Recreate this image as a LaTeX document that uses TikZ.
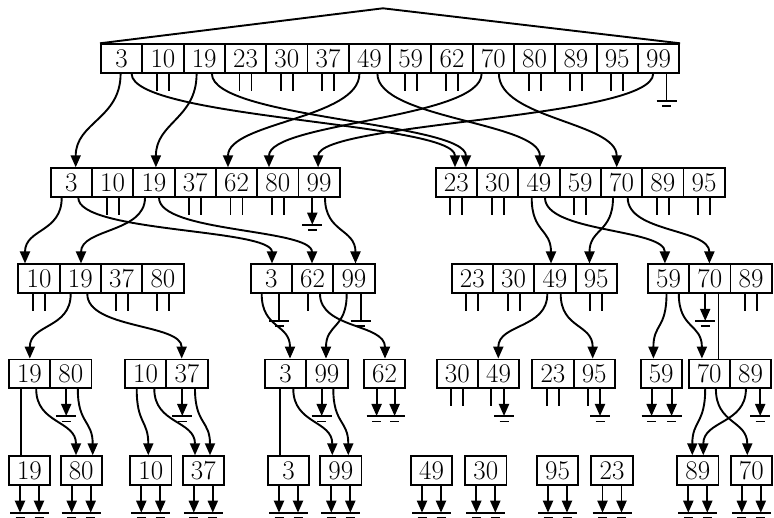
\documentclass[tikz,border=0pt]{standalone}
\usetikzlibrary{arrows.meta}
\newcommand\ptrc[5]{\draw[ptr] ([xshift=#2pt]#1.south) .. controls +(0,-#5) and +(0,#5) .. ([xshift=#4pt]#3.north);}
\newcommand\lin[4]{\draw ([xshift=#2pt]#1.south) -- ([xshift=#4pt]#3.north);}
\newcommand\stubl[2]{\draw ([xshift=#2pt]#1.south) -- ++(0,-17);}
\newcommand\stubs[1]{\stubl{#1}{-6}\stubl{#1}{6}}
\newcommand\gnd[3]{%
  \draw[#3] ([xshift=#2pt]#1.south) -- ++(0,-27);
  \draw ([xshift=#2pt]#1.south) ++(-10,-27) -- ++(20,0);
  \draw ([xshift=#2pt]#1.south) ++(-4.5,-32.5) -- ++(9,0);}
\newcommand\gndtwo[1]{\gnd{#1}{-9.5}{ptr}\gnd{#1}{9.5}{ptr}}
\begin{document}
\begin{tikzpicture}[x=1pt,y=1pt,line width=1.9pt,
  cell/.style={draw,minimum width=41.3pt,minimum height=28.5pt,inner sep=0pt,
    font=\fontsize{27}{30}\selectfont},
  ptr/.style={-{Triangle[width=10pt,length=12pt]}}]
\useasboundingbox (0,0) rectangle (774,-518);
% level 0
\foreach \k [count=\i from 0] in {3,10,19,23,30,37,49,59,62,70,80,89,95,99}
  \node[cell] (a\k) at (121.6+41.3*\i,-58.5) {\k};
% level 1
\foreach \k [count=\i from 0] in {3,10,19,37,62,80,99}
  \node[cell] (b\k) at (71.3+41.3*\i,-182.5) {\k};
\foreach \k [count=\i from 0] in {23,30,49,59,70,89,95}
  \node[cell] (c\k) at (456.3+41.3*\i,-182.5) {\k};
% level 2
\foreach \k [count=\i from 0] in {10,19,37,80}
  \node[cell] (d\k) at (39+41.3*\i,-278.7) {\k};
\foreach \k [count=\i from 0] in {3,62,99}
  \node[cell] (e\k) at (271.3+41.3*\i,-278.7) {\k};
\foreach \k [count=\i from 0] in {23,30,49,95}
  \node[cell] (f\k) at (472.3+41.3*\i,-278.7) {\k};
\foreach \k [count=\i from 0] in {59,70,89}
  \node[cell] (g\k) at (668.5+41.3*\i,-278.7) {\k};
% level 3
\foreach \k [count=\i from 0] in {19,80}
  \node[cell] (h\k) at (29.5+41.3*\i,-373.8) {\k};
\foreach \k [count=\i from 0] in {10,37}
  \node[cell] (i\k) at (145.6+41.3*\i,-373.8) {\k};
\foreach \k [count=\i from 0] in {3,99}
  \node[cell] (j\k) at (285.6+41.3*\i,-373.8) {\k};
\node[cell] (k62) at (384.6,-373.8) {62};
\foreach \k [count=\i from 0] in {30,49}
  \node[cell] (l\k) at (457.3+41.3*\i,-373.8) {\k};
\foreach \k [count=\i from 0] in {23,95}
  \node[cell] (m\k) at (552.9+41.3*\i,-373.8) {\k};
\node[cell] (n59) at (661.2,-373.8) {59};
\foreach \k [count=\i from 0] in {70,89}
  \node[cell] (o\k) at (709.2+41.3*\i,-373.8) {\k};
% level 4
\foreach \k/\x in {19/29.5,80/81.2,10/150.8,37/203.3,3/288.5,99/340.8,49/431.5,30/485.8,95/557.5,23/612,89/697.8,70/751.3}
  \node[cell] (z\k) at (\x,-470.5) {\k};
% triangle
\coordinate (apex) at (383,-8.3);
\draw (a3.north west) -- (apex) -- (a99.north east);
% level 0 pointers
\ptrc{a3}{-1}{b3}{4.4}{45}
\ptrc{a3}{10}{c23}{-1.3}{45}
\ptrc{a19}{-7.6}{b19}{2}{45}
\ptrc{a19}{7.7}{c23}{9.7}{45}
\ptrc{a49}{-10}{b62}{-8.5}{45}
\ptrc{a49}{8}{c49}{1}{45}
\ptrc{a70}{-11.7}{b80}{-8.8}{45}
\ptrc{a70}{5.6}{c70}{-4.8}{45}
\ptrc{a99}{-5.3}{b99}{-1}{45}
\gnd{a99}{8}{}
\foreach \k in {10,23,30,37,59,62,80,89,95}{\stubs{a\k}}
% level 1 pointers
\ptrc{b3}{-9.6}{d10}{-14}{35}
\ptrc{b3}{7}{e3}{0.7}{35}
\ptrc{b19}{-8.9}{d19}{0.7}{35}
\ptrc{b19}{5.1}{e62}{-0.6}{35}
\gnd{b99}{-6.8}{ptr}
\ptrc{b99}{5.9}{e99}{1.6}{35}
\foreach \k in {10,37,62,80}{\stubs{b\k}}
\ptrc{c49}{-7.2}{f49}{-3.9}{35}
\ptrc{c49}{6.1}{g59}{-3.6}{35}
\ptrc{c70}{-8.5}{f95}{-6.7}{35}
\ptrc{c70}{6.2}{g70}{-0.4}{35}
\foreach \k in {23,30,59,89,95}{\stubs{c\k}}
% level 2 pointers
\foreach \k in {10,37,80}{\stubs{d\k}}
\ptrc{d19}{-9.6}{h19}{0.3}{35}
\ptrc{d19}{7}{i37}{-5.2}{35}
\ptrc{e3}{-9.6}{j3}{4.4}{35}
\gnd{e3}{8}{}
\stubl{e62}{-4.9}
\ptrc{e62}{7.4}{k62}{0.4}{35}
\ptrc{e99}{-7.2}{j99}{-0.9}{35}
\gnd{e99}{6.8}{}
\foreach \k in {23,30,95}{\stubs{f\k}}
\ptrc{f49}{-7.6}{l49}{-0.3}{35}
\ptrc{f49}{5.8}{m95}{-1.5}{35}
\ptrc{g59}{-2}{n59}{-7.8}{35}
\ptrc{g59}{10.3}{o70}{-7.3}{35}
\gnd{g70}{-4.6}{ptr}
\lin{g70}{8.7}{o70}{9.3}
\stubs{g89}
% level 3 pointers
\lin{h19}{-8.8}{z19}{-8.8}
\ptrc{h19}{6.7}{z80}{-5.2}{35}
\gnd{h80}{-4.6}{ptr}
\ptrc{h80}{7}{z80}{11.5}{35}
\ptrc{i10}{-8.9}{z10}{-2.5}{35}
\ptrc{i10}{8.7}{z37}{-8.3}{35}
\gnd{i37}{-4.6}{ptr}
\ptrc{i37}{8.1}{z37}{6.7}{35}
\lin{j3}{-5.6}{z3}{-8.5}
\ptrc{j3}{7.7}{z99}{-8.5}{35}
\gnd{j99}{-5.2}{ptr}
\ptrc{j99}{6.4}{z99}{7.5}{35}
\gnd{k62}{-8}{ptr}
\gnd{k62}{10}{ptr}
\stubs{l30}
\stubl{l49}{-7.9}
\gnd{l49}{5.4}{ptr}
\stubs{m23}
\stubl{m95}{-6.5}
\gnd{m95}{5.8}{ptr}
\gnd{n59}{-9.6}{ptr}
\gnd{n59}{10.4}{ptr}
\ptrc{o70}{-4}{z89}{-5.5}{35}
\ptrc{o70}{6.7}{z70}{-4}{35}
\ptrc{o89}{-4.6}{z89}{5.5}{35}
\gnd{o89}{9.7}{ptr}
% level 4 grounds
\foreach \k in {19,80,10,37,3,99,49,30,95,23,89,70}{\gndtwo{z\k}}
\end{tikzpicture}
\end{document}
